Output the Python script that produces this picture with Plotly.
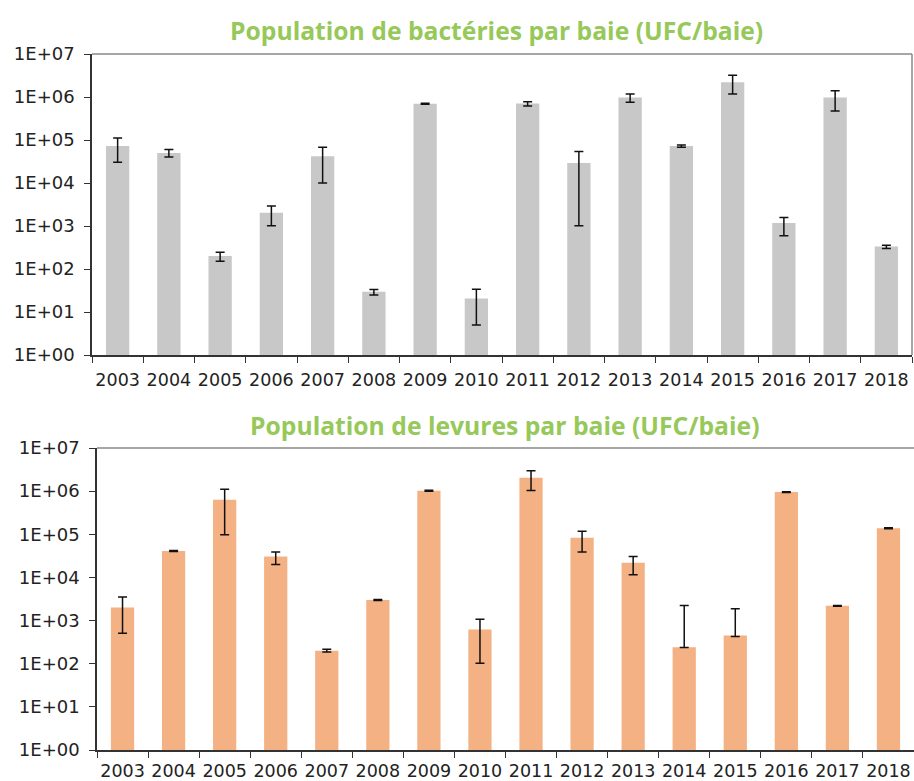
import plotly.graph_objects as go

years = [str(y) for y in range(2003, 2019)]

# Bactéries (UFC/baie)
bact = [7.3e4, 5.0e4, 200, 2040, 4.2e4, 29.5, 7.0e5, 20.7, 7.1e5, 2.9e4, 9.8e5, 7.3e4, 2.2e6, 1170, 9.8e5, 332]
bact_hi = [1.12e5, 6.0e4, 246, 2900, 6.8e4, 33.4, 7.2e5, 34, 7.8e5, 5.4e4, 1.18e6, 7.7e4, 3.2e6, 1570, 1.4e6, 357]
bact_lo = [3.05e4, 4.0e4, 152, 1020, 1.0e4, 25, 6.8e5, 5.0, 6.2e5, 1020, 7.6e5, 6.8e4, 1.18e6, 590, 4.7e5, 300]

# Levures (UFC/baie)
lev = [2000, 4.1e4, 6.3e5, 3.05e4, 200, 3000, 1.02e6, 620, 2.05e6, 8.3e4, 2.2e4, 240, 450, 9.5e5, 2200, 1.38e5]
lev_hi = [3500, 4.2e4, 1.1e6, 3.9e4, 217, 3080, 1.05e6, 1070, 2.95e6, 1.18e5, 3.05e4, 2230, 1870, 9.7e5, 2250, 1.41e5]
lev_lo = [510, 4.0e4, 9.8e4, 2.0e4, 188, 2920, 0.99e6, 103, 1.04e6, 3.9e4, 1.15e4, 238, 430, 9.3e5, 2150, 1.35e5]

ytickvals = [10 ** k for k in range(0, 8)]
yticktext = ["1E+%02d" % k for k in range(0, 8)]

title1 = "Population de bactéries par baie (UFC/baie)"
title2 = "Population de levures par baie (UFC/baie)"

W, H = 914, 781

def px_x(p):
    return p / W

def px_y(p):
    return 1 - p / H

fig = go.Figure()

fig.add_trace(go.Bar(
    x=years, y=bact, xaxis="x", yaxis="y",
    marker=dict(color="#C8C8C8", line=dict(width=0)),
    error_y=dict(type="data", symmetric=False,
                 array=[h - v for h, v in zip(bact_hi, bact)],
                 arrayminus=[v - l for v, l in zip(bact, bact_lo)],
                 color="#111111", thickness=1.5, width=4.5),
    showlegend=False, hoverinfo="skip",
))
fig.add_trace(go.Bar(
    x=years, y=lev, xaxis="x2", yaxis="y2",
    marker=dict(color="#F4B183", line=dict(width=0)),
    error_y=dict(type="data", symmetric=False,
                 array=[h - v for h, v in zip(lev_hi, lev)],
                 arrayminus=[v - l for v, l in zip(lev, lev_lo)],
                 color="#111111", thickness=1.5, width=4.5),
    showlegend=False, hoverinfo="skip",
))

tickfont = dict(family="DejaVu Sans", size=17.5, color="#222222")

xcommon = dict(type="category", tickson="boundaries", ticks="outside", ticklen=6,
               tickcolor="#333333", showline=True, linecolor="#333333", linewidth=1.5,
               showgrid=False, tickfont=tickfont, zeroline=False, tickangle=0,
               automargin=False)
ycommon = dict(type="log", range=[0, 7], tickvals=ytickvals, ticktext=yticktext,
               ticks="outside", ticklen=6, tickcolor="#333333", showline=True,
               linecolor="#333333", linewidth=1.5, showgrid=False,
               tickfont=dict(family="DejaVu Sans", size=18, color="#222222"),
               zeroline=False, automargin=False, ticklabelstandoff=6)

fig.update_layout(
    width=W, height=H,
    margin=dict(l=0, r=0, t=0, b=0),
    paper_bgcolor="white", plot_bgcolor="white",
    bargap=0.545,
    xaxis=dict(domain=[px_x(92), px_x(912)], anchor="y", ticklabelstandoff=8, **xcommon),
    yaxis=dict(domain=[px_y(355), px_y(54)], anchor="x", **ycommon),
    xaxis2=dict(domain=[px_x(97), 1.0], anchor="y2", ticklabelstandoff=4, **xcommon),
    yaxis2=dict(domain=[px_y(750), px_y(448)], anchor="x2", **ycommon),
    annotations=[
        dict(text="<b>%s</b>" % title1, x=px_x(496), y=px_y(31), xref="paper", yref="paper",
             xanchor="center", yanchor="middle", showarrow=False,
             font=dict(family="Open Sans", size=24.7, color="#96C85A")),
        dict(text="<b>%s</b>" % title2, x=px_x(505), y=px_y(426), xref="paper", yref="paper",
             xanchor="center", yanchor="middle", showarrow=False,
             font=dict(family="Open Sans", size=24.7, color="#96C85A")),
    ],
    shapes=[
        dict(type="line", xref="x domain", yref="y domain", x0=0, x1=1, y0=1, y1=1,
             line=dict(color="#888888", width=1.5)),
        dict(type="line", xref="x domain", yref="y domain", x0=1, x1=1, y0=0, y1=1,
             line=dict(color="#888888", width=1.5)),
        dict(type="line", xref="x2 domain", yref="y2 domain", x0=0, x1=1, y0=1, y1=1,
             line=dict(color="#888888", width=1.5)),
    ],
)

fig.write_html("out.html", config={"displayModeBar": False},
               post_script="document.body.style.margin='0';document.body.style.overflow='hidden';")
